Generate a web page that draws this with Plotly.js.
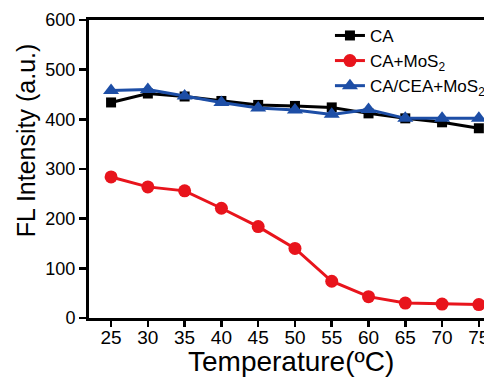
<!DOCTYPE html>
<html>
<head>
<meta charset="utf-8">
<script src="https://cdn.plot.ly/plotly-3.0.1.min.js"></script>
<style>html,body{margin:0;padding:0;background:#fff;}#chart{width:484px;height:378px;}</style>
</head>
<body>
<div id="chart"></div>
<script>
const temperatures = [25, 30, 35, 40, 45, 50, 55, 60, 65, 70, 75];
const caValues = [434, 452, 446, 437, 429, 427, 424, 412, 402, 394, 382];
const caMos2Values = [284, 264, 256, 221, 184, 140, 74, 43, 30, 28, 27];
const caCeaMos2Values = [458, 460, 447, 434, 423, 419, 410, 420, 402, 402, 402];
const seriesNames = ["CA", "CA+MoS<sub>2</sub>", "CA/CEA+MoS<sub>2</sub>"];
const yTicks = [0, 100, 200, 300, 400, 500, 600];
const xTitle = "Temperature(ºC)";
const yTitle = "FL Intensity (a.u.)";

const font = "Liberation Sans, Arial, sans-serif";
const traces = [
  {x: temperatures, y: caValues, name: seriesNames[0], mode: "lines+markers",
   line: {color: "#000000", width: 3}, marker: {symbol: "square", size: 10, color: "#000000"}},
  {x: temperatures, y: caMos2Values, name: seriesNames[1], mode: "lines+markers",
   line: {color: "#e8141c", width: 3}, marker: {symbol: "circle", size: 13, color: "#e8141c"}},
  {x: temperatures, y: caCeaMos2Values, name: seriesNames[2], mode: "lines+markers",
   line: {color: "#1d4ea6", width: 3}, marker: {symbol: "triangle-up", size: 14, color: "#1d4ea6"}}
];
const layout = {
  width: 484, height: 378,
  margin: {l: 89, r: 0, t: 20, b: 60, autoexpand: false},
  paper_bgcolor: "#fff", plot_bgcolor: "#fff",
  font: {family: font, color: "#000"},
  showlegend: true,
  legend: {x: 0.61, y: 1.007, xanchor: "left", yanchor: "top", font: {size: 17, family: font},
           bgcolor: "rgba(0,0,0,0)", tracegroupgap: 0},
  xaxis: {
    range: [22, 75.7], tickvals: temperatures, showgrid: false, zeroline: false,
    showline: true, linewidth: 3, linecolor: "#000", mirror: true,
    ticks: "outside", ticklen: 6, tickwidth: 2.5, tickcolor: "#000",
    ticklabeloverflow: "allow", ticklabelstandoff: -6, automargin: false,
    tickfont: {size: 19, family: font}
  },
  yaxis: {
    range: [0, 600], tickvals: yTicks, showgrid: false, zeroline: false,
    showline: true, linewidth: 3, linecolor: "#000", automargin: false,
    ticks: "outside", ticklen: 7, tickwidth: 2.5, tickcolor: "#000",
    tickfont: {size: 18, family: font}
  },
  annotations: [
    {text: yTitle, xref: "paper", yref: "paper", x: -0.159, y: 0.597, xanchor: "center", yanchor: "middle",
     textangle: -90, showarrow: false, font: {size: 25, family: font, color: "#000"}},
    {text: xTitle, xref: "paper", yref: "paper", x: 0.511, y: -0.145, xanchor: "center", yanchor: "middle",
     showarrow: false, font: {size: 28, family: font, color: "#000"}}
  ]
};
Plotly.newPlot("chart", traces, layout, {displayModeBar: false, staticPlot: true});
</script>
</body>
</html>
